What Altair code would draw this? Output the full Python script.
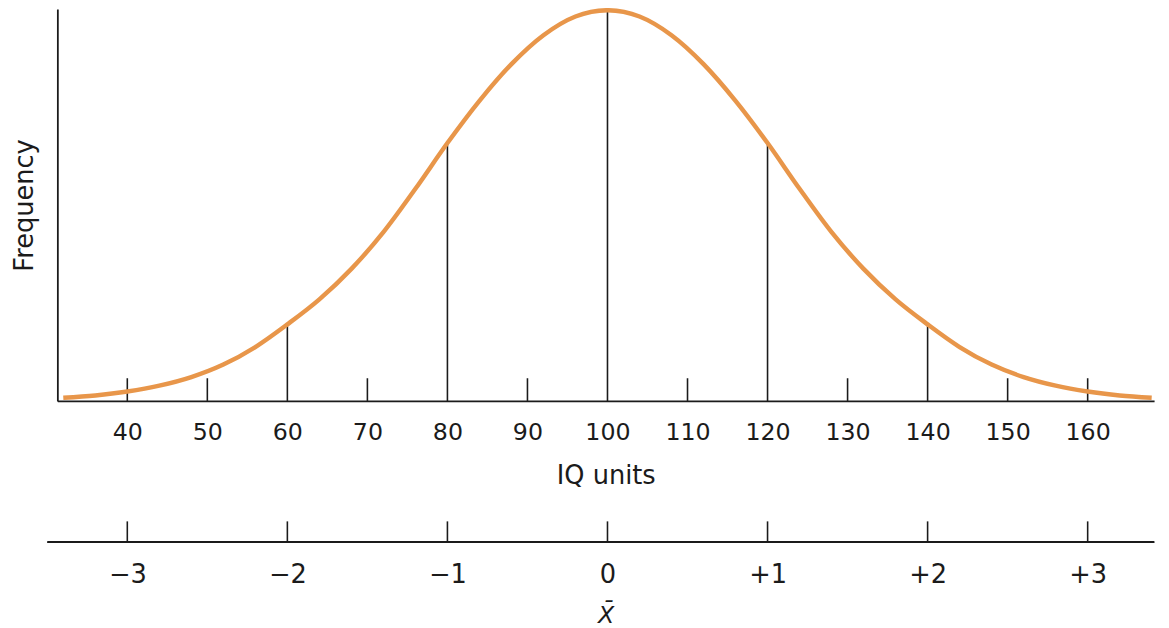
import altair as alt
import pandas as pd

# ---- data ----
# bell curve: IQ value and relative frequency (peak = 100)
curve_iq = [32, 36, 40, 44, 48, 52, 56, 60, 64, 68, 72, 76, 80, 84, 88, 92, 96, 100,
            104, 108, 112, 116, 120, 124, 128, 132, 136, 140, 144, 148, 152, 156, 160, 164, 168]
curve_freq = [0.8, 1.4, 2.4, 3.9, 6.1, 9.3, 13.8, 19.6, 26.0, 33.8, 43.2, 54.3, 66, 76.8, 86.2, 93.6, 98.4, 100,
              98.4, 93.6, 86.2, 76.8, 66, 54.3, 43.2, 33.8, 26.0, 19.6, 13.8, 9.3, 6.1, 3.9, 2.4, 1.4, 0.8]

# vertical lines at the mean and at each standard deviation, up to the curve
sd_iq = [60, 80, 100, 120, 140]
sd_freq = [19.6, 66, 100, 66, 19.6]

# short upward tick marks on the IQ axis
minor_iq = [40, 50, 70, 90, 110, 130, 150, 160]

# IQ tick labels
iq_labels = [40, 50, 60, 70, 80, 90, 100, 110, 120, 130, 140, 150, 160]

# standard-deviation scale below
z_values = [-3, -2, -1, 0, 1, 2, 3]
MEAN = 100
SD = 20

IQ_MIN, IQ_MAX = 31.26, 168.3
Z_LINE_START = (30.06 - MEAN) / SD

FONT = "DejaVu Sans"
INK = "#1b1b1b"
ORANGE = "#E8964A"

W = 1111
H = 397
H2 = 21

curve_df = pd.DataFrame({"iq": curve_iq, "freq": curve_freq})
sd_df = pd.DataFrame({"iq": sd_iq, "freq": sd_freq})
minor_df = pd.DataFrame({"iq": minor_iq})
z_df = pd.DataFrame({"z": z_values})

xs = alt.Scale(domain=[IQ_MIN, IQ_MAX], nice=False, zero=False)
ys = alt.Scale(domain=[0, 100.3], nice=False, zero=True)

x_axis = alt.Axis(
    values=iq_labels, grid=False, ticks=False, tickSize=0,
    domainColor=INK, domainWidth=1.8,
    labelFont=FONT, labelFontSize=24, labelColor=INK, labelPadding=20,
    labelOverlap=False, labelFlush=False,
    title="IQ units", titleFont=FONT, titleFontSize=26, titleFontWeight="normal",
    titleColor=INK, titlePadding=19,
)
y_axis = alt.Axis(
    labels=False, ticks=False, tickSize=0, grid=False,
    domainColor=INK, domainWidth=1.8,
    title="Frequency", titleFont=FONT, titleFontSize=26, titleFontWeight="normal",
    titleColor=INK, titlePadding=20,
)

sd_lines = alt.Chart(sd_df).mark_rule(color=INK, strokeWidth=1.6).encode(
    x=alt.X("iq:Q", scale=xs, axis=x_axis),
    y=alt.Y("freq:Q", scale=ys, axis=y_axis),
    y2=alt.datum(0),
)

minor_ticks = alt.Chart(minor_df).mark_rule(color=INK, strokeWidth=1.6).encode(
    x=alt.X("iq:Q", scale=xs),
    y=alt.value(H),
    y2=alt.value(H - 23),
)

curve = alt.Chart(curve_df).mark_line(
    color=ORANGE, strokeWidth=4.5, interpolate="monotone"
).encode(
    x=alt.X("iq:Q", scale=xs),
    y=alt.Y("freq:Q", scale=ys),
)

top = alt.layer(sd_lines, minor_ticks, curve).properties(width=W, height=H)

# ---- lower scale in standard deviations ----
zs = alt.Scale(domain=[(IQ_MIN - MEAN) / SD, (IQ_MAX - MEAN) / SD], nice=False, zero=False)
z_axis = alt.Axis(
    values=z_values, grid=False, ticks=False, tickSize=0, domain=False,
    labelExpr="datum.value < 0 ? '\u2212' + abs(datum.value) : (datum.value > 0 ? '+' + datum.value : '0')",
    labelFont=FONT, labelFontSize=26, labelColor=INK, labelPadding=20,
    labelOverlap=False, labelFlush=False,
    title="X\u0304", titleFont=FONT, titleFontSize=24, titleFontStyle="italic",
    titleFontWeight="normal", titleColor=INK, titlePadding=16,
)

z_ticks = alt.Chart(z_df).mark_rule(color=INK, strokeWidth=1.6).encode(
    x=alt.X("z:Q", scale=zs, axis=z_axis),
    y=alt.value(0),
    y2=alt.value(H2),
)

z_line = alt.Chart(z_df).mark_rule(color=INK, strokeWidth=1.8).encode(
    x=alt.datum(Z_LINE_START, scale=zs),
    x2=alt.datum((IQ_MAX - MEAN) / SD),
    y=alt.value(H2),
)

bottom = alt.layer(z_ticks, z_line).properties(width=W, height=H2)

chart = alt.vconcat(top, bottom, spacing=32).properties(
    padding={"left": 4, "top": -11, "right": 0, "bottom": 0},
    background="white",
).configure_view(stroke=None)

chart.save("out.html", embed_options={"renderer": "svg", "actions": False})
